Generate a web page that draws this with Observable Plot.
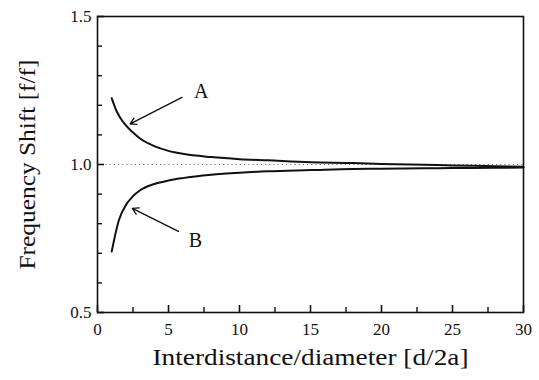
<!DOCTYPE html>
<html>
<head>
<meta charset="utf-8">
<script src="https://cdn.jsdelivr.net/npm/d3@7"></script>
<script src="https://cdn.jsdelivr.net/npm/@observablehq/plot@0.6"></script>
<style>
  body { margin: 0; background: #fff; }
  #chart svg { display: block; }
</style>
</head>
<body>
<div id="chart"></div>
<script>
// Curve A (upper)
const dA = [1.0, 1.3, 1.6, 2.0, 2.5, 3.0, 4.0, 5.0, 6.0, 8.0, 10, 12, 15, 18, 20, 23, 25, 28, 30];
const fA = [1.224, 1.185, 1.158, 1.132, 1.108, 1.088, 1.062, 1.046, 1.036, 1.025, 1.018, 1.014, 1.008, 1.005, 1.002, 0.999, 0.997, 0.994, 0.992];
// Curve B (lower)
const dB = [1.0, 1.5, 2.0, 2.5, 3.0, 4.0, 5.0, 6.0, 8.0, 10, 12, 15, 18, 20, 23, 25, 28, 30];
const fB = [0.706, 0.811, 0.863, 0.893, 0.913, 0.934, 0.946, 0.954, 0.965, 0.972, 0.977, 0.981, 0.985, 0.986, 0.987, 0.988, 0.989, 0.990];
// Annotations
const labels = ["A", "B"];
const labelX = [7.3, 6.9];
const labelY = [1.245, 0.742];
const arrowX1 = [5.95, 5.7];
const arrowY1 = [1.227, 0.774];
const arrowX2 = [2.3, 2.45];
const arrowY2 = [1.137, 0.852];
// Ticks
const xMajor = [0, 5, 10, 15, 20, 25, 30];
const xMinor = [2.5, 7.5, 12.5, 17.5, 22.5, 27.5];
const yMajor = [0.5, 1.0, 1.5];
const yMinor = [0.6, 0.7, 0.8, 0.9, 1.1, 1.2, 1.3, 1.4];
const refLine = [1.0];

const A = dA.map((d, i) => ({d, f: fA[i]}));
const B = dB.map((d, i) => ({d, f: fB[i]}));
const lab = labels.map((t, i) => ({t, x: labelX[i], y: labelY[i]}));
const arr = labels.map((t, i) => ({x1: arrowX1[i], y1: arrowY1[i], x2: arrowX2[i], y2: arrowY2[i]}));

const font = "Liberation Serif";
const W = 539, H = 380, mL = 97, mR = 16, mT = 16, mB = 68;
const plotW = W - mL - mR, plotH = H - mT - mB;

const chart = Plot.plot({
  width: W,
  height: H,
  marginLeft: mL,
  marginRight: mR,
  marginTop: mT,
  marginBottom: mB,
  x: {domain: [0, 30]},
  y: {domain: [0.5, 1.5]},
  marks: [
    Plot.ruleY(refLine, {stroke: "#777", strokeWidth: 1, strokeDasharray: "1.2,3"}),
    Plot.line(A, {x: "d", y: "f", stroke: "#111", strokeWidth: 2, curve: "monotone-x"}),
    Plot.line(B, {x: "d", y: "f", stroke: "#111", strokeWidth: 2, curve: "monotone-x"}),
    Plot.arrow(arr, {x1: "x1", y1: "y1", x2: "x2", y2: "y2", stroke: "#111", strokeWidth: 1.3, headLength: 8, bend: 0}),
    Plot.text(lab, {x: "x", y: "y", text: "t", fontSize: 20, fontFamily: font, fill: "#111"}),
    // inward ticks
    Plot.ruleX(xMajor, {x: d => d, insetTop: plotH - 7, stroke: "#111", strokeWidth: 1.6}),
    Plot.ruleX(xMinor, {x: d => d, insetTop: plotH - 5, stroke: "#111", strokeWidth: 1.4}),
    Plot.ruleY(yMajor, {y: d => d, insetRight: plotW - 7, stroke: "#111", strokeWidth: 1.6}),
    Plot.ruleY(yMinor, {y: d => d, insetRight: plotW - 5, stroke: "#111", strokeWidth: 1.4}),
    Plot.axisX(xMajor, {tickSize: 0, tickPadding: 10, fontSize: 17, fontFamily: font, tickFormat: d => String(d),
      label: "Interdistance/diameter [d/2a]", labelAnchor: "center", labelOffset: 52, labelArrow: "none"}),
    Plot.axisY(yMajor, {tickSize: 0, tickPadding: 6, fontSize: 17, fontFamily: font, tickFormat: d => d.toFixed(1),
      label: "Frequency Shift [f/f]", labelAnchor: "center", labelOffset: 80, labelArrow: "none"}),
    Plot.frame({stroke: "#111", strokeWidth: 1.6})
  ]
});
// force the serif face on every text element
chart.querySelectorAll("text").forEach(t => {
  t.style.fontFamily = '"Liberation Serif", "Times New Roman", serif';
  t.style.fill = "#111";
});
chart.querySelectorAll("g[aria-label='x-axis tick label'], g[aria-label='y-axis tick label']").forEach(g => {
  g.style.fontSize = "17px";
  g.querySelectorAll("text").forEach(t => t.style.fontSize = "17px");
});
// axis titles: larger, slightly stretched like the scanned reference
const xl = chart.querySelector("g[aria-label='x-axis label'] text");
if (xl) { xl.style.fontSize = "24px"; xl.setAttribute("textLength", "316"); xl.setAttribute("lengthAdjust", "spacingAndGlyphs"); }
const yl = chart.querySelector("g[aria-label='y-axis label'] text");
if (yl) { yl.style.fontSize = "24px"; yl.setAttribute("textLength", "210"); yl.setAttribute("lengthAdjust", "spacingAndGlyphs"); }
document.getElementById("chart").appendChild(chart);
</script>
</body>
</html>
